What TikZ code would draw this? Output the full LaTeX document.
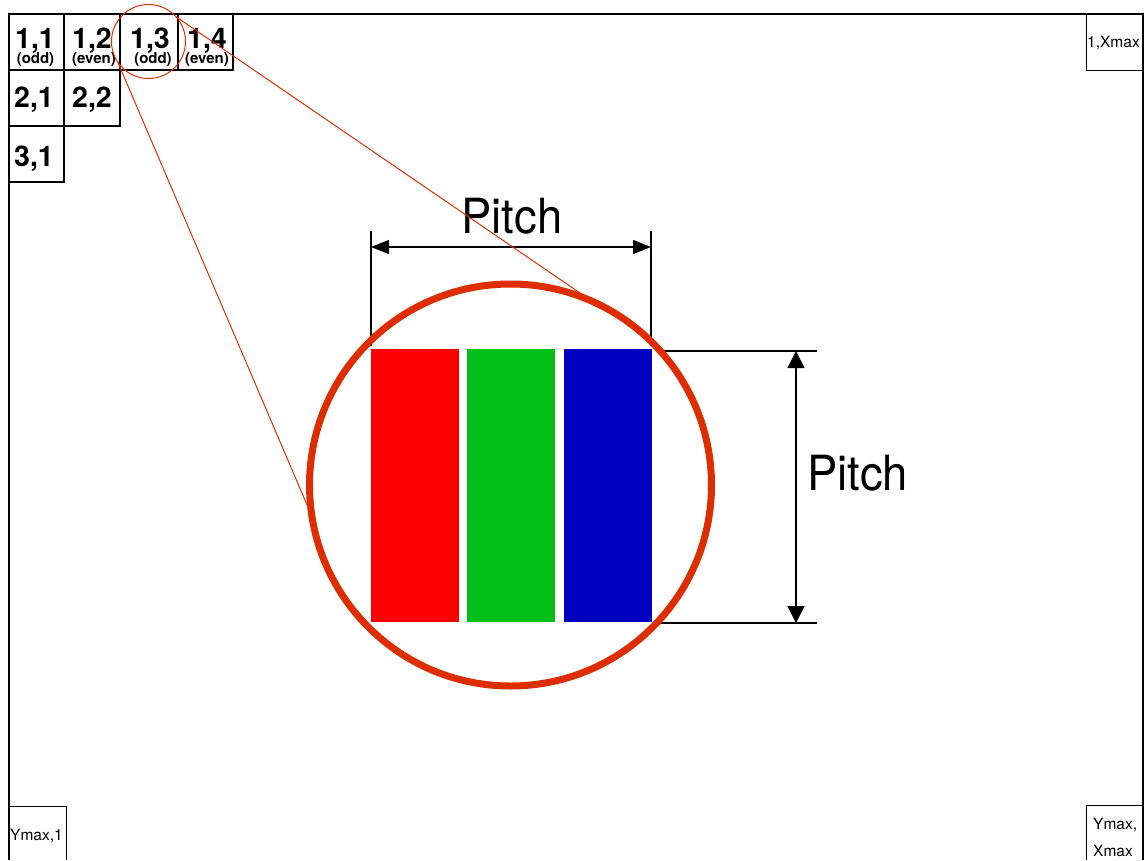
\documentclass[tikz,border=0pt]{standalone}
\usepackage{fontspec}
\setmainfont{TeX Gyre Heros}
\usetikzlibrary{arrows.meta}
\definecolor{zoomred}{RGB}{222,45,0}
\definecolor{pxred}{RGB}{255,0,0}
\definecolor{pxgreen}{RGB}{0,192,24}
\definecolor{pxblue}{RGB}{0,0,192}
\tikzset{
  cellbox/.style={draw=black, line width=2.3pt},
  celllab/.style={anchor=base, inner sep=0pt, font=\fontsize{28.5}{30}\selectfont\bfseries},
  parlab/.style={anchor=base, inner sep=0pt, font=\fontsize{15}{16}\selectfont\bfseries},
  cornerlab/.style={anchor=base west, inner sep=0pt, font=\fontsize{15.5}{17}\selectfont},
  pitchlab/.style={anchor=base, inner sep=0pt, xscale=0.935, font=\fontsize{48.5}{50}\selectfont},
  subpix/.style={inner sep=0pt, outer sep=0pt, minimum width=88pt, minimum height=273pt, anchor=north west},
  extline/.style={line width=2pt},
  dimarrowh/.style={line width=1.3pt, {Triangle[length=18pt,width=14pt]}-{Triangle[length=18pt,width=14pt]}},
  dimarrowv/.style={line width=1.3pt, {Triangle[length=17pt,width=17pt]}-{Triangle[length=17pt,width=17pt]}},
  zoomline/.style={draw=zoomred, line width=1pt}
}
\begin{document}
\begin{tikzpicture}[x=1pt,y=-1pt]
\useasboundingbox (0,0) rectangle (1146,860);
% outer frame
\draw[line width=2.5pt] (9,860) -- (9,14) -- (1143,14) -- (1143,860);
% corner boxes
\draw[line width=1pt] (1086,14) rectangle (1143,70);
\draw[line width=1pt] (9,806) -- (66,806) -- (66,860);
\draw[line width=1pt] (1086,860) -- (1086,805) -- (1143,805);
\node[cornerlab] (c1) at (1087,47) {1,Xmax};
\node[cornerlab] (c2) at (10,840) {Ymax,1};
\node[cornerlab] (c3a) at (1093,829) {Ymax,};
\node[cornerlab] (c3b) at (1093,856) {Xmax};
% cells
\draw[cellbox] (9,14) rectangle (64,70);
\draw[cellbox] (64,14) rectangle (120,70);
\draw[cellbox] (120,14) rectangle (178,70);
\draw[cellbox] (178,14) rectangle (233,70);
\draw[cellbox] (9,70) rectangle (64,126);
\draw[cellbox] (64,70) rectangle (120,126);
\draw[cellbox] (9,126) rectangle (64,182);
\node[celllab] (l11) at (35,48) {1,1};
\node[celllab] (l12) at (92,48) {1,2};
\node[celllab] (l13) at (150,48) {1,3};
\node[celllab] (l14) at (207,48) {1,4};
\node[parlab] (p11) at (35.5,63.5) {(odd)};
\node[parlab] (p12) at (94,63.5) {(even)};
\node[parlab] (p13) at (153,63.5) {(odd)};
\node[parlab] (p14) at (207,63.5) {(even)};
\node[celllab] (l21) at (34,107) {2,1};
\node[celllab] (l22) at (92,107) {2,2};
\node[celllab] (l31) at (34,166) {3,1};
% sub-pixels
\node[subpix, fill=pxred] (rr) at (371,349) {};
\node[subpix, fill=pxgreen] (gg) at (467,349) {};
\node[subpix, fill=pxblue] (bb) at (564,349) {};
% dimension: horizontal pitch
\coordinate (h1t) at (371,231);
\coordinate (h1b) at (371,346);
\coordinate (h2t) at (651,231);
\coordinate (h2b) at (651,346);
\coordinate (ha) at (371,247);
\coordinate (hb) at (651,247);
\draw[extline] (h1t) -- (h1b);
\draw[extline] (h2t) -- (h2b);
\draw[dimarrowh] (ha) -- (hb);
\node[pitchlab] (pt1) at (512,233) {Pitch};
% dimension: vertical pitch
\coordinate (v1l) at (659,351);
\coordinate (v1r) at (817,351);
\coordinate (v2l) at (659,623);
\coordinate (v2r) at (817,623);
\coordinate (va) at (796,351);
\coordinate (vb) at (796,623);
\draw[extline] (v1l) -- (v1r);
\draw[extline] (v2l) -- (v2r);
\draw[dimarrowv] (va) -- (vb);
\node[pitchlab, anchor=base west] (pt2) at (807,490) {Pitch};
% zoom circles
\node[circle, draw=zoomred, line width=1pt, minimum size=74pt, inner sep=0pt, outer sep=0pt] (small) at (148.5,41.5) {};
\node[circle, draw=zoomred, line width=7pt, minimum size=402pt, inner sep=0pt, outer sep=0pt] (big) at (510.5,485) {};
\draw[zoomline] (small.42) -- (big.66.4);
\draw[zoomline] (small.214) -- (big.189.2);
\end{tikzpicture}
\end{document}
